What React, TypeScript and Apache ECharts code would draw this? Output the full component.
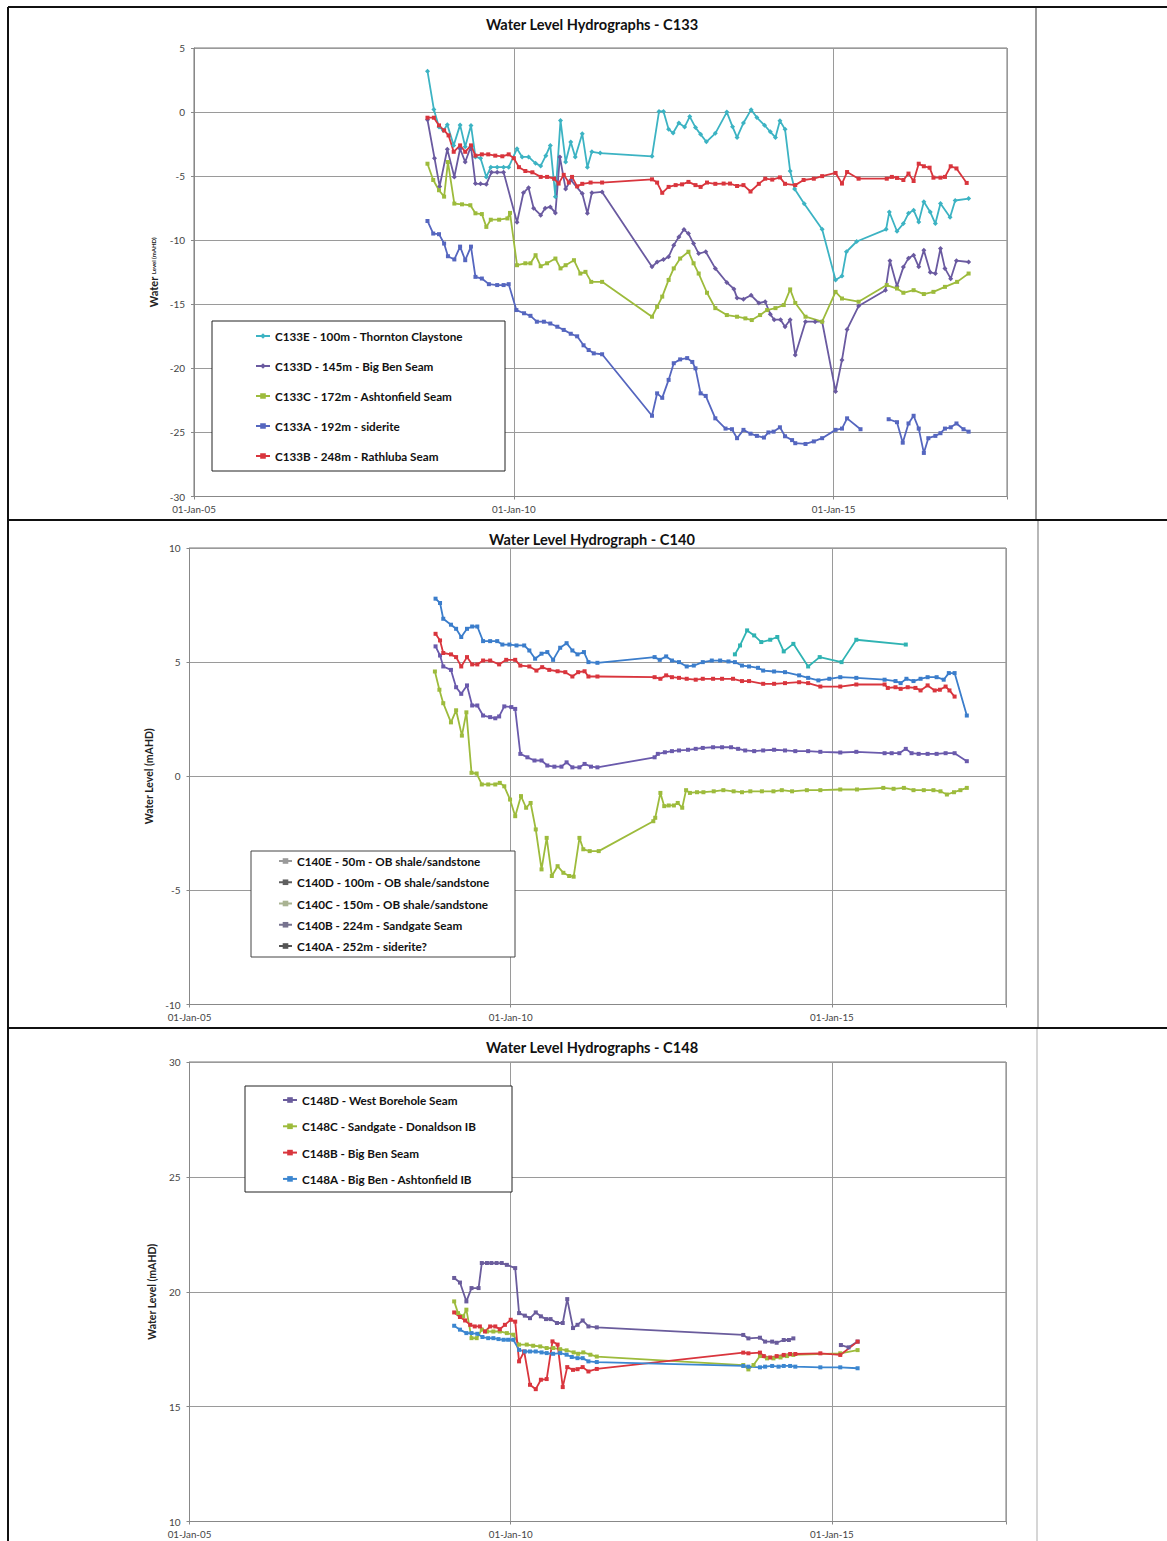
import React, { useEffect, useRef } from "react";
import * as echarts from "echarts";

// ---------- Panel 1: C133 ----------
const c133eX = [2008.65, 2008.75, 2008.83, 2008.9, 2008.96, 2009.06, 2009.16, 2009.24, 2009.33, 2009.4, 2009.48, 2009.57, 2009.64, 2009.74, 2009.84, 2009.92, 2010.05, 2010.13, 2010.23, 2010.34, 2010.42, 2010.5, 2010.57, 2010.65, 2010.73, 2010.81, 2010.89, 2010.96, 2011.07, 2011.15, 2011.22, 2011.35, 2012.16, 2012.27, 2012.34, 2012.42, 2012.49, 2012.58, 2012.67, 2012.75, 2012.84, 2012.92, 2013.01, 2013.15, 2013.33, 2013.42, 2013.49, 2013.59, 2013.71, 2013.8, 2013.92, 2014.01, 2014.09, 2014.16, 2014.24, 2014.32, 2014.39, 2014.54, 2014.82, 2015.03, 2015.13, 2015.2, 2015.36, 2015.82, 2015.87, 2015.99, 2016.09, 2016.17, 2016.25, 2016.33, 2016.41, 2016.51, 2016.59, 2016.67, 2016.82, 2016.9, 2017.11];
const c133eY = [3.19, 0.21, -1.17, -1.43, -0.99, -2.6, -1.0, -2.7, -1.04, -3.5, -3.6, -5.06, -4.3, -4.3, -4.3, -4.3, -2.86, -3.5, -3.5, -4.0, -4.2, -3.4, -2.6, -6.6, -0.65, -3.9, -2.34, -3.5, -1.7, -4.3, -3.1, -3.2, -3.45, 0.05, 0.05, -1.35, -1.63, -0.85, -1.17, -0.35, -1.2, -1.74, -2.32, -1.66, 0.0, -1.15, -1.98, -0.85, 0.19, -0.43, -1.03, -1.54, -1.98, -0.68, -1.35, -4.6, -6.0, -7.15, -9.15, -13.1, -12.8, -10.9, -10.1, -9.15, -7.8, -9.3, -8.7, -7.9, -7.66, -8.57, -7.0, -7.8, -8.7, -7.14, -8.2, -6.9, -6.75];

const c133dX = [2008.65, 2008.76, 2008.84, 2008.96, 2009.07, 2009.16, 2009.24, 2009.33, 2009.4, 2009.48, 2009.57, 2009.65, 2009.74, 2009.84, 2010.05, 2010.15, 2010.23, 2010.31, 2010.42, 2010.49, 2010.57, 2010.65, 2010.72, 2010.81, 2010.89, 2011.07, 2011.15, 2011.22, 2011.38, 2012.16, 2012.24, 2012.34, 2012.42, 2012.5, 2012.58, 2012.66, 2012.73, 2012.81, 2012.89, 2013.0, 2013.15, 2013.33, 2013.44, 2013.49, 2013.59, 2013.71, 2013.83, 2013.93, 2014.01, 2014.07, 2014.17, 2014.24, 2014.32, 2014.4, 2014.56, 2014.71, 2014.82, 2015.03, 2015.13, 2015.21, 2015.39, 2015.81, 2015.88, 2015.99, 2016.09, 2016.17, 2016.25, 2016.33, 2016.41, 2016.51, 2016.59, 2016.67, 2016.74, 2016.83, 2016.92, 2017.11];
const c133dY = [-0.6, -3.6, -5.8, -2.9, -5.06, -2.86, -3.9, -2.67, -5.58, -5.6, -5.64, -4.7, -4.7, -4.7, -8.6, -6.3, -5.9, -7.5, -8.05, -7.5, -7.4, -7.87, -3.5, -6.0, -5.3, -6.36, -7.9, -6.3, -6.23, -12.08, -11.7, -11.5, -11.3, -10.4, -9.74, -9.17, -9.48, -10.26, -11.04, -10.9, -12.2, -13.3, -13.8, -14.5, -14.6, -14.3, -14.9, -14.8, -15.77, -16.2, -16.2, -16.75, -16.2, -18.96, -16.36, -16.36, -16.36, -21.8, -19.35, -16.96, -15.14, -13.9, -11.6, -13.6, -12.1, -11.4, -11.17, -12.08, -10.78, -12.5, -12.6, -10.65, -12.2, -13.0, -11.6, -11.7];

const c133cX = [2008.65, 2008.74, 2008.83, 2008.91, 2008.97, 2009.07, 2009.19, 2009.32, 2009.4, 2009.5, 2009.57, 2009.64, 2009.77, 2009.9, 2009.94, 2010.05, 2010.18, 2010.26, 2010.34, 2010.42, 2010.52, 2010.65, 2010.73, 2010.81, 2010.94, 2011.04, 2011.12, 2011.21, 2011.38, 2012.16, 2012.24, 2012.32, 2012.42, 2012.5, 2012.6, 2012.73, 2012.81, 2012.89, 2013.02, 2013.15, 2013.33, 2013.49, 2013.62, 2013.72, 2013.85, 2013.96, 2014.09, 2014.22, 2014.32, 2014.4, 2014.56, 2014.82, 2015.03, 2015.13, 2015.39, 2015.83, 2015.99, 2016.09, 2016.25, 2016.41, 2016.56, 2016.74, 2016.93, 2017.11];
const c133cY = [-4.03, -5.3, -6.1, -6.6, -3.9, -7.14, -7.2, -7.27, -7.9, -7.96, -8.96, -8.4, -8.4, -8.3, -7.87, -11.95, -11.8, -11.8, -11.17, -12.03, -11.8, -11.43, -12.2, -11.95, -11.56, -12.6, -12.47, -13.25, -13.25, -15.97, -15.2, -14.4, -13.1, -12.2, -11.43, -10.9, -11.8, -12.6, -14.1, -15.3, -15.84, -15.97, -16.1, -16.23, -15.84, -15.45, -15.3, -15.06, -13.84, -14.9, -15.97, -16.36, -14.03, -14.55, -14.8, -13.5, -13.77, -14.1, -13.9, -14.2, -14.03, -13.64, -13.25, -12.6];

const c133aX = [2008.65, 2008.74, 2008.83, 2008.91, 2008.97, 2009.07, 2009.16, 2009.24, 2009.33, 2009.4, 2009.5, 2009.61, 2009.74, 2009.84, 2009.92, 2010.04, 2010.16, 2010.26, 2010.36, 2010.47, 2010.57, 2010.68, 2010.78, 2010.89, 2010.99, 2011.09, 2011.17, 2011.25, 2011.38, 2012.16, 2012.24, 2012.32, 2012.42, 2012.5, 2012.6, 2012.71, 2012.79, 2012.84, 2012.92, 2013.0, 2013.15, 2013.31, 2013.41, 2013.49, 2013.59, 2013.7, 2013.8, 2013.91, 2013.98, 2014.06, 2014.16, 2014.24, 2014.35, 2014.4, 2014.56, 2014.69, 2014.82, 2015.03, 2015.13, 2015.21, 2015.42, 2015.6, 2015.86, 2015.99, 2016.08, 2016.17, 2016.25, 2016.33, 2016.41, 2016.48, 2016.59, 2016.67, 2016.74, 2016.83, 2016.92, 2017.03, 2017.11];
const c133aY = [-8.5, -9.48, -9.53, -10.26, -11.25, -11.5, -10.5, -11.56, -10.5, -12.86, -12.99, -13.43, -13.5, -13.5, -13.43, -15.45, -15.7, -15.9, -16.36, -16.36, -16.5, -16.75, -17.0, -17.3, -17.5, -18.2, -18.57, -18.83, -18.9, -23.7, -21.95, -22.3, -20.9, -19.6, -19.3, -19.2, -19.5, -20.0, -21.95, -22.15, -23.9, -24.7, -24.75, -25.45, -24.8, -25.1, -25.27, -25.4, -25.0, -24.94, -24.6, -25.3, -25.6, -25.84, -25.9, -25.7, -25.45, -24.8, -24.7, -23.9, -24.75, null, -23.97, -24.2, -25.8, -24.3, -23.7, -24.7, -26.6, -25.45, -25.27, -25.06, -24.7, -24.6, -24.3, -24.75, -24.94];

const c133bX = [2008.65, 2008.75, 2008.83, 2008.91, 2008.98, 2009.06, 2009.16, 2009.24, 2009.33, 2009.4, 2009.5, 2009.6, 2009.71, 2009.82, 2009.92, 2010.0, 2010.08, 2010.18, 2010.29, 2010.42, 2010.52, 2010.63, 2010.7, 2010.78, 2010.86, 2010.91, 2010.99, 2011.07, 2011.2, 2011.38, 2012.16, 2012.24, 2012.32, 2012.42, 2012.53, 2012.63, 2012.73, 2012.84, 2012.92, 2013.02, 2013.15, 2013.28, 2013.38, 2013.49, 2013.59, 2013.7, 2013.83, 2013.93, 2014.04, 2014.16, 2014.24, 2014.4, 2014.53, 2014.69, 2014.82, 2015.03, 2015.13, 2015.21, 2015.39, 2015.83, 2015.91, 2015.99, 2016.09, 2016.17, 2016.25, 2016.33, 2016.41, 2016.5, 2016.56, 2016.67, 2016.74, 2016.83, 2016.92, 2017.08];
const c133bY = [-0.44, -0.44, -1.04, -1.43, -1.82, -3.1, -2.6, -3.1, -2.6, -3.4, -3.3, -3.3, -3.4, -3.45, -3.3, -3.6, -4.3, -4.6, -4.7, -5.06, -5.06, -5.2, -5.58, -4.9, -5.5, -5.06, -5.8, -5.6, -5.5, -5.5, -5.25, -5.5, -6.3, -5.84, -5.7, -5.64, -5.45, -5.7, -5.84, -5.5, -5.6, -5.58, -5.58, -5.77, -5.7, -6.2, -5.6, -5.2, -5.27, -5.1, -5.6, -5.7, -5.3, -5.2, -5.0, -4.75, -5.58, -4.68, -5.2, -5.2, -5.06, -5.14, -5.3, -4.8, -5.38, -4.03, -4.23, -4.34, -5.12, -5.12, -5.06, -4.23, -4.4, -5.53];

// ---------- Panel 2: C140 ----------
const c140eX = [2013.49, 2013.57, 2013.68, 2013.79, 2013.9, 2014.04, 2014.15, 2014.25, 2014.4, 2014.63, 2014.81, 2015.15, 2015.38, 2016.15];
const c140eY = [5.34, 5.73, 6.39, 6.17, 5.88, 5.98, 6.1, 5.47, 5.8, 4.81, 5.22, 5.0, 5.98, 5.77];

const c140dX = [2008.83, 2008.9, 2008.95, 2009.07, 2009.15, 2009.23, 2009.32, 2009.4, 2009.48, 2009.57, 2009.68, 2009.79, 2009.87, 2009.98, 2010.09, 2010.21, 2010.29, 2010.38, 2010.48, 2010.57, 2010.66, 2010.77, 2010.87, 2010.96, 2011.04, 2011.14, 2011.21, 2011.35, 2012.24, 2012.32, 2012.42, 2012.51, 2012.62, 2012.74, 2012.85, 2012.99, 2013.13, 2013.26, 2013.39, 2013.49, 2013.6, 2013.71, 2013.85, 2013.93, 2014.1, 2014.27, 2014.49, 2014.63, 2014.79, 2014.96, 2015.13, 2015.38, 2015.82, 2015.99, 2016.07, 2016.16, 2016.27, 2016.38, 2016.49, 2016.63, 2016.74, 2016.82, 2016.91, 2017.1];
const c140dY = [7.78, 7.59, 6.9, 6.64, 6.46, 6.1, 6.46, 6.56, 6.56, 5.92, 5.92, 5.92, 5.77, 5.77, 5.73, 5.73, 5.51, 5.15, 5.37, 5.44, 5.1, 5.63, 5.83, 5.51, 5.34, 5.44, 5.0, 4.97, 5.22, 5.1, 5.25, 5.07, 5.0, 4.81, 4.85, 5.0, 5.07, 5.07, 5.03, 5.0, 4.85, 4.81, 4.75, 4.63, 4.59, 4.56, 4.42, 4.31, 4.2, 4.27, 4.34, 4.31, 4.23, 4.17, 4.08, 4.27, 4.17, 4.27, 4.34, 4.34, 4.23, 4.52, 4.52, 2.66];

const c140cX = [2008.82, 2008.89, 2008.95, 2009.07, 2009.15, 2009.24, 2009.31, 2009.39, 2009.47, 2009.55, 2009.65, 2009.76, 2009.83, 2009.9, 2009.99, 2010.07, 2010.16, 2010.24, 2010.31, 2010.39, 2010.48, 2010.56, 2010.64, 2010.73, 2010.82, 2010.91, 2010.98, 2011.07, 2011.13, 2011.23, 2011.37, 2012.22, 2012.25, 2012.33, 2012.39, 2012.46, 2012.54, 2012.6, 2012.67, 2012.73, 2012.79, 2012.9, 2013.0, 2013.16, 2013.31, 2013.47, 2013.6, 2013.73, 2013.91, 2014.09, 2014.22, 2014.38, 2014.61, 2014.82, 2015.13, 2015.39, 2015.8, 2015.96, 2016.12, 2016.27, 2016.43, 2016.58, 2016.69, 2016.79, 2016.9, 2017.0, 2017.1];
const c140cY = [4.59, 3.79, 3.2, 2.36, 2.89, 1.78, 2.8, 0.15, 0.12, -0.36, -0.36, -0.36, -0.29, -0.44, -1.02, -1.75, -0.87, -1.38, -1.17, -2.33, -4.08, -2.7, -4.37, -3.94, -4.23, -4.37, -4.4, -2.7, -3.2, -3.28, -3.28, -1.97, -1.82, -0.73, -1.31, -1.28, -1.28, -1.17, -1.38, -0.61, -0.73, -0.7, -0.7, -0.66, -0.61, -0.66, -0.7, -0.66, -0.66, -0.66, -0.61, -0.66, -0.61, -0.61, -0.58, -0.58, -0.51, -0.55, -0.51, -0.61, -0.61, -0.61, -0.66, -0.8, -0.7, -0.61, -0.51];

const c140bX = [2008.83, 2008.9, 2008.95, 2009.07, 2009.15, 2009.23, 2009.32, 2009.4, 2009.48, 2009.57, 2009.68, 2009.76, 2009.82, 2009.9, 2010.01, 2010.07, 2010.15, 2010.26, 2010.37, 2010.48, 2010.57, 2010.68, 2010.79, 2010.87, 2010.96, 2011.07, 2011.15, 2011.25, 2011.35, 2012.24, 2012.29, 2012.4, 2012.51, 2012.62, 2012.76, 2012.88, 2012.99, 2013.15, 2013.29, 2013.43, 2013.54, 2013.65, 2013.79, 2013.93, 2014.1, 2014.27, 2014.43, 2014.63, 2014.82, 2015.13, 2015.38, 2015.82, 2015.93, 2016.05, 2016.15, 2016.24, 2016.35, 2016.49, 2016.63, 2016.77, 2016.91, 2017.1];
const c140bY = [5.69, 5.29, 4.81, 4.66, 3.9, 3.61, 3.98, 3.1, 3.1, 2.66, 2.59, 2.54, 2.62, 3.06, 3.03, 2.95, 0.98, 0.83, 0.69, 0.69, 0.47, 0.42, 0.42, 0.61, 0.39, 0.39, 0.54, 0.42, 0.39, 0.83, 0.98, 1.05, 1.1, 1.13, 1.16, 1.2, 1.24, 1.27, 1.27, 1.27, 1.2, 1.13, 1.1, 1.13, 1.16, 1.13, 1.1, 1.1, 1.07, 1.04, 1.07, 1.01, 1.01, 1.01, 1.2, 1.01, 0.98, 0.98, 0.98, 1.01, 1.01, 0.66];

const c140aX = [2008.83, 2008.9, 2008.95, 2009.07, 2009.15, 2009.23, 2009.32, 2009.4, 2009.48, 2009.57, 2009.68, 2009.82, 2009.93, 2010.07, 2010.15, 2010.29, 2010.4, 2010.49, 2010.6, 2010.73, 2010.85, 2010.96, 2011.05, 2011.15, 2011.21, 2011.35, 2012.24, 2012.33, 2012.42, 2012.51, 2012.62, 2012.74, 2012.88, 2012.99, 2013.15, 2013.29, 2013.46, 2013.6, 2013.71, 2013.93, 2014.1, 2014.27, 2014.49, 2014.63, 2014.82, 2015.13, 2015.38, 2015.82, 2015.87, 2015.99, 2016.07, 2016.18, 2016.3, 2016.38, 2016.49, 2016.6, 2016.68, 2016.77, 2016.83, 2016.91];
const c140aY = [6.24, 5.95, 5.4, 5.34, 5.22, 4.81, 5.22, 4.9, 4.9, 5.07, 5.07, 4.9, 5.1, 5.1, 4.85, 4.81, 4.63, 4.78, 4.66, 4.6, 4.56, 4.37, 4.56, 4.6, 4.37, 4.37, 4.34, 4.27, 4.42, 4.34, 4.31, 4.27, 4.23, 4.27, 4.27, 4.27, 4.27, 4.17, 4.17, 4.05, 4.05, 4.08, 4.12, 4.08, 3.93, 3.93, 4.02, 4.02, 3.87, 3.9, 3.83, 3.9, 3.87, 3.76, 3.98, 3.76, 3.79, 3.93, 3.76, 3.49];

// ---------- Panel 3: C148 ----------
const c148dX = [2009.12, 2009.21, 2009.31, 2009.39, 2009.5, 2009.55, 2009.63, 2009.7, 2009.78, 2009.86, 2009.94, 2010.07, 2010.13, 2010.22, 2010.3, 2010.39, 2010.47, 2010.55, 2010.62, 2010.72, 2010.81, 2010.88, 2010.97, 2011.04, 2011.12, 2011.21, 2011.34, 2013.62, 2013.7, 2013.88, 2013.96, 2014.07, 2014.14, 2014.25, 2014.33, 2014.4, 2014.8, 2015.14, 2015.26, 2015.4];
const c148dY = [20.6, 20.4, 19.58, 20.16, 20.16, 21.25, 21.25, 21.25, 21.25, 21.25, 21.17, 21.03, 19.07, 18.96, 18.85, 19.1, 18.93, 18.81, 18.81, 18.64, 18.64, 19.68, 18.42, 18.56, 18.75, 18.49, 18.45, 18.12, 17.97, 18.0, 17.83, 17.83, 17.78, 17.9, 17.9, 17.97, null, 17.68, 17.58, 17.83];

const c148cX = [2009.12, 2009.18, 2009.26, 2009.31, 2009.39, 2009.47, 2009.55, 2009.63, 2009.73, 2009.83, 2009.94, 2010.04, 2010.13, 2010.25, 2010.35, 2010.46, 2010.56, 2010.66, 2010.77, 2010.87, 2010.98, 2011.05, 2011.13, 2011.24, 2011.34, 2013.62, 2013.7, 2013.78, 2013.88, 2013.99, 2014.09, 2014.2, 2014.3, 2014.4, 2015.13, 2015.4];
const c148cY = [19.58, 19.07, 18.93, 19.22, 17.98, 17.98, 18.35, 18.27, 18.27, 18.27, 18.2, 18.13, 17.7, 17.7, 17.65, 17.62, 17.55, 17.55, 17.5, 17.45, 17.36, 17.3, 17.36, 17.26, 17.18, 16.81, 16.62, 16.81, 17.2, 17.1, 17.1, 17.14, 17.2, 17.25, 17.32, 17.46];

const c148bX = [2009.12, 2009.21, 2009.29, 2009.37, 2009.44, 2009.52, 2009.6, 2009.68, 2009.76, 2009.83, 2009.91, 2010.0, 2010.07, 2010.13, 2010.21, 2010.3, 2010.39, 2010.47, 2010.56, 2010.65, 2010.73, 2010.81, 2010.88, 2010.97, 2011.04, 2011.12, 2011.21, 2011.34, 2013.62, 2013.7, 2013.88, 2013.94, 2014.04, 2014.14, 2014.25, 2014.35, 2014.43, 2014.82, 2015.13, 2015.4];
const c148bY = [19.1, 18.9, 18.75, 18.56, 18.49, 18.49, 18.27, 18.49, 18.49, 18.37, 18.56, 18.78, 18.7, 16.97, 17.4, 15.95, 15.76, 16.17, 16.2, 17.84, 17.7, 15.85, 16.72, 16.6, 16.63, 16.72, 16.53, 16.64, 17.35, 17.32, 17.35, 17.2, 17.14, 17.2, 17.25, 17.29, 17.29, 17.32, 17.25, 17.83];

const c148aX = [2009.12, 2009.21, 2009.31, 2009.39, 2009.48, 2009.56, 2009.65, 2009.73, 2009.81, 2009.89, 2009.96, 2010.04, 2010.13, 2010.22, 2010.3, 2010.39, 2010.48, 2010.56, 2010.66, 2010.77, 2010.87, 2010.95, 2011.04, 2011.12, 2011.21, 2011.34, 2013.62, 2013.7, 2013.88, 2013.96, 2014.07, 2014.17, 2014.25, 2014.35, 2014.43, 2014.82, 2015.13, 2015.4];
const c148aY = [18.52, 18.35, 18.2, 18.2, 18.17, 18.03, 17.98, 17.98, 17.94, 17.91, 17.91, 17.91, 17.47, 17.4, 17.4, 17.4, 17.36, 17.33, 17.3, 17.33, 17.26, 17.16, 17.11, 17.11, 16.97, 16.94, 16.77, 16.74, 16.71, 16.74, 16.77, 16.74, 16.77, 16.77, 16.74, 16.71, 16.71, 16.67];

// ---------- axis / text ----------
const titles = ["Water Level Hydrographs - C133", "Water Level Hydrograph - C140", "Water Level Hydrographs - C148"];
const xTicks = [2005, 2010, 2015];
const xMin = 2005;
const xMax = 2017.71;
const yRanges = [
  [-30, 5],
  [-10, 10],
  [10, 30],
];

const names1 = ["C133E - 100m - Thornton Claystone", "C133D - 145m - Big Ben Seam", "C133C - 172m - Ashtonfield Seam", "C133A - 192m - siderite", "C133B - 248m - Rathluba Seam"];
const names2 = ["C140E - 50m - OB shale/sandstone", "C140D - 100m - OB shale/sandstone", "C140C - 150m - OB shale/sandstone", "C140B - 224m - Sandgate Seam", "C140A - 252m - siderite?"];
const names3 = ["C148D - West Borehole Seam", "C148C - Sandgate - Donaldson IB", "C148B - Big Ben Seam", "C148A - Big Ben - Ashtonfield IB"];

const FONT = "Lato, 'Open Sans', sans-serif";

const pts = (xs: number[], ys: (number | null)[]) =>
  xs.map((x, i) => [x, ys[i] === null ? "-" : ys[i]]);

const mkSeries = (
  name: string,
  idx: number,
  color: string,
  symbol: string,
  size: number,
  xs: number[],
  ys: (number | null)[]
) => ({
  name,
  type: "line",
  xAxisIndex: idx,
  yAxisIndex: idx,
  data: pts(xs, ys),
  color,
  symbol,
  symbolSize: size,
  showSymbol: true,
  connectNulls: false,
  lineStyle: { width: 1.8, color },
  itemStyle: { color },
  emphasis: { disabled: true },
});

export default function App() {
  const ref = useRef<HTMLDivElement>(null);
  useEffect(() => {
    if (!ref.current) return;
    const chart = echarts.init(ref.current, undefined, { renderer: "svg" });

    const grids = [
      { left: 194, top: 48, width: 813, height: 448.5 },
      { left: 189.5, top: 548, width: 816.5, height: 456.5 },
      { left: 189.5, top: 1062, width: 816.5, height: 459.5 },
    ];

    const xAxes = grids.map((_, i) => ({
      type: "value",
      gridIndex: i,
      min: xMin,
      max: xMax,
      interval: 5,
      axisLine: { show: true, onZero: false, lineStyle: { color: "#888", width: 1 } },
      axisTick: { show: true, length: 3, lineStyle: { color: "#888" } },
      splitLine: { show: true, lineStyle: { color: "#9a9a9a", width: 1 } },
      axisLabel: {
        margin: 7,
        fontSize: 9.8,
        fontFamily: FONT,
        color: "#444",
        formatter: (v: number) =>
          xTicks.indexOf(Math.round(v * 100) / 100) >= 0 ? "01-Jan-" + String(v).slice(2) : "",
      },
    }));

    const nameGaps = [28, 29, 27];
    const yAxes = grids.map((_, i) => ({
      type: "value",
      gridIndex: i,
      min: yRanges[i][0],
      max: yRanges[i][1],
      interval: 5,
      name: i === 0 ? "{a|Water} {b|Level (mAHD)}" : "Water Level (mAHD)",
      nameLocation: "middle",
      nameRotate: 90,
      nameGap: nameGaps[i],
      nameTextStyle: {
        fontFamily: FONT,
        fontWeight: "bold",
        fontSize: 10.5,
        color: "#222",
        rich: {
          a: { fontFamily: FONT, fontWeight: "bold", fontSize: 11, color: "#222" },
          b: { fontFamily: FONT, fontWeight: "bold", fontSize: 6, color: "#222" },
        },
      },
      axisLine: { show: true, onZero: false, lineStyle: { color: "#888", width: 1 } },
      axisTick: { show: true, length: 3, lineStyle: { color: "#888" } },
      splitLine: { show: true, lineStyle: { color: "#9a9a9a", width: 1 } },
      axisLabel: { margin: 9, fontSize: 10, fontFamily: FONT, color: "#444" },
    }));

    const series = [
      mkSeries(names1[0], 0, "#3cb3c3", "diamond", 5, c133eX, c133eY),
      mkSeries(names1[1], 0, "#6a5aa0", "diamond", 5, c133dX, c133dY),
      mkSeries(names1[2], 0, "#9dbb3c", "rect", 4, c133cX, c133cY),
      mkSeries(names1[3], 0, "#5566bf", "rect", 4, c133aX, c133aY),
      mkSeries(names1[4], 0, "#d9353d", "rect", 4, c133bX, c133bY),

      mkSeries(names2[0], 1, "#2fb3b3", "rect", 4, c140eX, c140eY),
      mkSeries(names2[1], 1, "#3b7dcb", "rect", 4, c140dX, c140dY),
      mkSeries(names2[2], 1, "#9dbb3c", "rect", 4, c140cX, c140cY),
      mkSeries(names2[3], 1, "#6a5aac", "rect", 4, c140bX, c140bY),
      mkSeries(names2[4], 1, "#d9353d", "rect", 4, c140aX, c140aY),

      mkSeries(names3[0], 2, "#6a5c9c", "rect", 4, c148dX, c148dY),
      mkSeries(names3[1], 2, "#9dbb3c", "rect", 4, c148cX, c148cY),
      mkSeries(names3[2], 2, "#d9353d", "rect", 4, c148bX, c148bY),
      mkSeries(names3[3], 2, "#3b86d0", "rect", 4, c148aX, c148aY),
    ];

    const legendText = { fontSize: 11.7, fontWeight: "bold", fontFamily: FONT, color: "#111", lineHeight: 12 };
    const grays2 = ["#9a9a9a", "#5f5f5f", "#a9b392", "#77738f", "#555555"];
    const legends = [
      {
        data: names1,
        orient: "vertical",
        left: 255,
        top: 330,
        itemWidth: 14,
        itemHeight: 7,
        itemGap: 18,
        padding: 0,
        selectedMode: false,
        textStyle: legendText,
      },
      {
        data: names2.map((n, i) => ({
          name: n,
          itemStyle: { color: grays2[i] },
          lineStyle: { color: grays2[i] },
        })),
        orient: "vertical",
        left: 278,
        top: 855,
        itemWidth: 13,
        itemHeight: 7,
        itemGap: 9.25,
        padding: 0,
        selectedMode: false,
        textStyle: legendText,
      },
      {
        data: names3,
        orient: "vertical",
        left: 282,
        top: 1094,
        itemWidth: 14,
        itemHeight: 7,
        itemGap: 14.3,
        padding: 0,
        selectedMode: false,
        textStyle: legendText,
      },
    ];

    const titleYs = [24, 539, 1047];
    const graphic: any[] = [
      // legend boxes
      { type: "rect", z: 3, shape: { x: 212, y: 321, width: 293, height: 150 }, style: { fill: "#fff", stroke: "#222", lineWidth: 1 } },
      { type: "rect", z: 3, shape: { x: 251, y: 851, width: 264, height: 106 }, style: { fill: "#fff", stroke: "#444", lineWidth: 1 } },
      { type: "rect", z: 3, shape: { x: 245, y: 1086, width: 267, height: 106 }, style: { fill: "#fff", stroke: "#222", lineWidth: 1 } },
      // page frame lines
      { type: "line", z: 10, shape: { x1: 8, y1: 7, x2: 1167, y2: 7 }, style: { stroke: "#111", lineWidth: 2 } },
      { type: "line", z: 10, shape: { x1: 8, y1: 7, x2: 8, y2: 1541 }, style: { stroke: "#111", lineWidth: 2 } },
      { type: "line", z: 10, shape: { x1: 8, y1: 520, x2: 1167, y2: 520 }, style: { stroke: "#111", lineWidth: 2 } },
      { type: "line", z: 10, shape: { x1: 8, y1: 1028, x2: 1167, y2: 1028 }, style: { stroke: "#111", lineWidth: 2 } },
      { type: "line", z: 10, shape: { x1: 1036, y1: 8, x2: 1036, y2: 519 }, style: { stroke: "#555", lineWidth: 1.2 } },
      { type: "line", z: 10, shape: { x1: 1038, y1: 521, x2: 1038, y2: 1027 }, style: { stroke: "#888", lineWidth: 1.2 } },
      { type: "line", z: 10, shape: { x1: 1037, y1: 1029, x2: 1037, y2: 1541 }, style: { stroke: "#bbb", lineWidth: 1.2 } },
    ];
    titles.forEach((t, i) => {
      graphic.push({
        type: "text",
        z: 10,
        x: 592,
        y: titleYs[i],
        style: {
          text: t,
          align: "center",
          verticalAlign: "middle",
          fontFamily: FONT,
          fontWeight: "bold",
          fontSize: 14.6,
          fill: "#111",
        },
      });
    });

    chart.setOption({
      animation: false,
      backgroundColor: "#fff",
      grid: grids.map((g) => ({ ...g, show: true, borderColor: "#777", borderWidth: 1, backgroundColor: "transparent" })),
      xAxis: xAxes,
      yAxis: yAxes,
      legend: legends,
      series,
      graphic,
    } as any);

    return () => chart.dispose();
  }, []);

  return (
    <div
      ref={ref}
      style={{ position: "absolute", left: 0, top: 0, width: 1167, height: 1541, background: "#fff" }}
    />
  );
}
